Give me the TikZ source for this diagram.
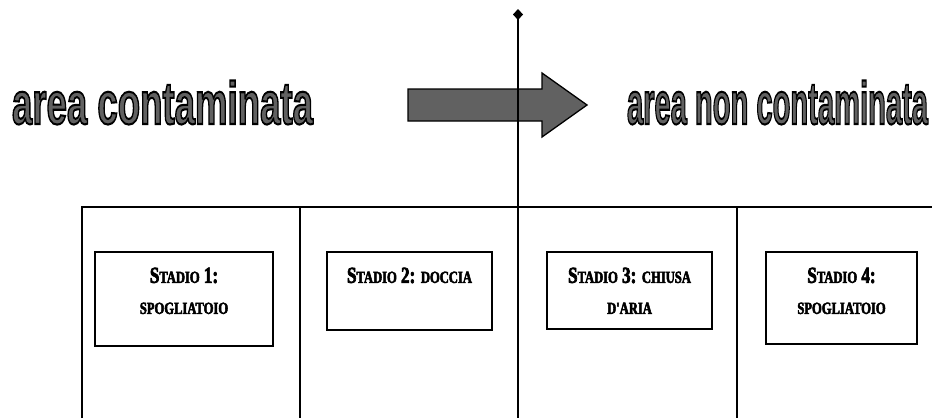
\documentclass[tikz,border=0pt]{standalone}
\usepackage{fontspec}
\usepackage{graphicx}
\usetikzlibrary{positioning,arrows.meta}
\newfontfamily\areafont{Liberation Sans}[FakeBold=3.5]
\newfontfamily\stagefont{Liberation Serif}[FakeStretch=0.74,FakeBold=3]
\newcommand\areatitle[1]{\resizebox{301pt}{\height}{\areafont\bfseries\fontsize{60}{60}\selectfont
	\color{black!62}\special{pdf:literal direct 0 G}#1}}
\newcommand\lc[1]{{\fontsize{17}{31}\selectfont\MakeUppercase{#1}}}
\begin{document}
\begin{tikzpicture}[x=1pt,y=-1pt]
		\tikzset{
			rule/.style={line width=1.3pt},
			stagebox/.style={draw, line width=1.1pt, inner sep=0pt},
			stagelabel/.style={inner sep=0pt, align=center,
				font=\stagefont\bfseries\fontsize{23}{31}\selectfont},
			areatext/.style={anchor=base, inner sep=0pt}
		}
		\useasboundingbox (0,0) rectangle (932,418);
		% grey arrow
		\filldraw[fill=black!62, line width=1.3pt, line join=miter]
			(408,89) -- (542,89) -- (542,73) -- (587,105)
			-- (542,137) -- (542,121) -- (408,121) -- cycle;
		% titles
		\node[areatext] (contam) at (162.5,124) {\areatitle{area contaminata}};
		\node[areatext] (noncontam) at (777.5,124) {\areatitle{area non contaminata}};
		% table
		\draw[rule] (82,418) -- (82,207) -- (932,207);
		\foreach\x in{300,737}{
			\draw[rule] (\x,207) -- (\x,418);
		}
		% border line
		\coordinate (top) at (518,9);
		\coordinate (bot) at (518,418);
		\draw[rule, {Diamond[length=11pt,width=10pt]}-] (top) -- (bot);
		% stages
		\foreach\n/\x/\y/\w/\h in{1/184/299/178/94, 2/409.5/291/165/78,
			3/629.5/290.5/165/77, 4/841.5/298/151/92}{
			\node[stagebox, minimum width=\w pt, minimum height=\h pt] (s\n) at (\x,\y) {};
		}
		\node[stagelabel, below=16pt of s1.north] (l1) {S\lc{tadio} 1:\\\lc{spogliatoio}};
		\node[stagelabel, below=16pt of s2.north] (l2) {S\lc{tadio} 2: \lc{doccia}};
		\node[stagelabel, below=16pt of s3.north] (l3) {S\lc{tadio} 3: \lc{chiusa}\\\lc{d'aria}};
		\node[stagelabel, below=16pt of s4.north] (l4) {S\lc{tadio} 4:\\\lc{spogliatoio}};
\end{tikzpicture}
\end{document}
